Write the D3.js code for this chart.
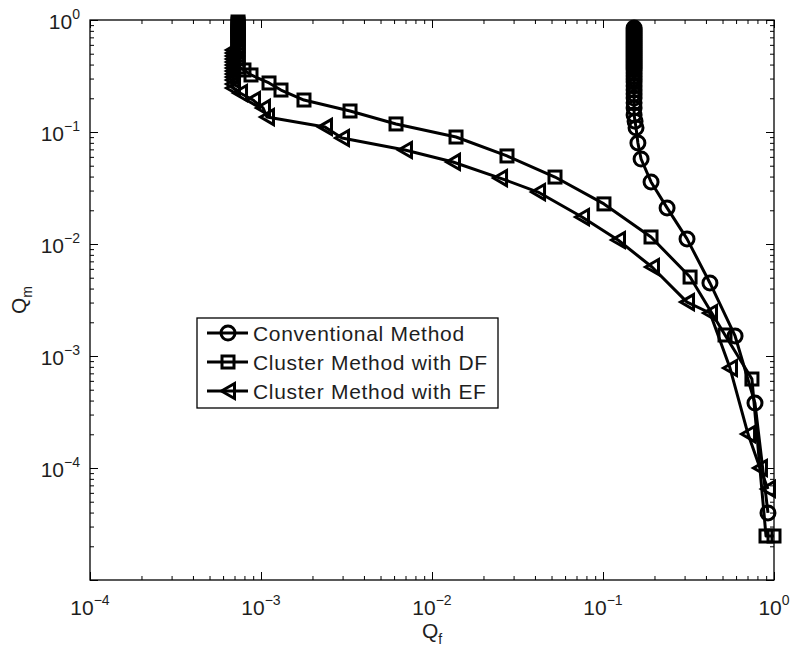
<!DOCTYPE html>
<html>
<head>
<meta charset="utf-8">
<script src="https://cdn.jsdelivr.net/npm/d3@7"></script>
<style>
  html, body { margin: 0; padding: 0; background: #fff; }
  svg { display: block; font-family: "Liberation Sans", Arial, Helvetica, sans-serif; }
</style>
</head>
<body>
<svg id="chart" width="790" height="648"></svg>
<script>
// Conventional method (circles)
const convQf = [
  0.152, 0.152, 0.152, 0.152, 0.152, 0.152, 0.152, 0.152, 0.152, 0.152, 0.152,
  0.152, 0.152, 0.152, 0.152, 0.152, 0.152, 0.152, 0.152, 0.152, 0.152, 0.152,
  0.152, 0.152, 0.152, 0.152, 0.152, 0.152, 0.152, 0.152, 0.152, 0.152, 0.152,
  0.154, 0.156, 0.160, 0.167, 0.191, 0.237, 0.310, 0.422, 0.592, 0.774, 0.922
];
const convQm = [
  0.848, 0.814, 0.781, 0.750, 0.720, 0.691, 0.663, 0.636, 0.611, 0.586, 0.562,
  0.540, 0.518, 0.497, 0.477, 0.458, 0.439, 0.422, 0.405, 0.388, 0.373, 0.358,
  0.336, 0.316, 0.297, 0.280, 0.257, 0.237, 0.218, 0.201, 0.182, 0.164, 0.142,
  0.125, 0.109, 0.0798, 0.0574, 0.0358, 0.0210, 0.0111, 0.00449, 0.00151, 0.000380, 0.0000397
];

// Cluster method with DF (squares)
const dfQf = [
  0.000734, 0.000734, 0.000734, 0.000734, 0.000734, 0.000734, 0.000734, 0.000734, 0.000734,
  0.000734, 0.000734, 0.000734, 0.000734, 0.000734, 0.000734, 0.000734, 0.000734, 0.000734,
  0.000795, 0.000874, 0.001114, 0.001309, 0.001784, 0.003316, 0.00616, 0.01382, 0.02745,
  0.0524, 0.1013, 0.1909, 0.323, 0.517, 0.743, 0.898, 1.0
];
const dfQm = [
  0.960, 0.921, 0.884, 0.848, 0.814, 0.781, 0.750, 0.720, 0.691,
  0.663, 0.623, 0.586, 0.551, 0.518, 0.487, 0.449, 0.413, 0.381,
  0.358, 0.323, 0.274, 0.237, 0.193, 0.154, 0.118, 0.0902, 0.0611,
  0.0396, 0.0228, 0.01155, 0.00507, 0.00154, 0.000623, 0.0000247, 0.0000247
];

// Cluster method with EF (left-pointing triangles)
const efQf = [
  0.000686, 0.000686, 0.000686, 0.000686, 0.000686, 0.000686, 0.000686, 0.000686, 0.000686,
  0.000686, 0.000686, 0.000686, 0.000686,
  0.000754, 0.000898, 0.001027, 0.001084, 0.002367, 0.002977, 0.00695, 0.01327, 0.0250,
  0.0417, 0.0754, 0.1224, 0.1934, 0.310, 0.4225, 0.553, 0.705, 0.828, 0.922
];
const efQm = [
  0.540, 0.507, 0.477, 0.449, 0.422, 0.397, 0.373, 0.350, 0.330,
  0.310, 0.291, 0.268, 0.247,
  0.223, 0.193, 0.164, 0.136, 0.111, 0.0884, 0.0691, 0.0540, 0.0388,
  0.0291, 0.0174, 0.01086, 0.00623, 0.00303, 0.00242, 0.000781, 0.000201, 0.0001, 0.0000650
];

const seriesNames = ["Conventional Method", "Cluster Method with DF", "Cluster Method with EF"];
const seriesMarkers = ["circle", "square", "triangleLeft"];
const xExponents = [-4, -3, -2, -1, 0];
const yExponents = [0, -1, -2, -3, -4];

const svg = d3.select("#chart");
const plot = { left: 90, right: 774, top: 20, bottom: 580 };

const x = d3.scaleLog().domain([1e-4, 1]).range([plot.left, plot.right]);
const y = d3.scaleLog().domain([1e-5, 1]).range([plot.bottom, plot.top]);

const ink = "#000";
const textInk = "#1e1e1e";

// Plot background
svg.append("rect").attr("x", plot.left).attr("y", plot.top)
  .attr("width", plot.right - plot.left).attr("height", plot.bottom - plot.top)
  .attr("fill", "#fff");

// Ticks (inward, on all four sides)
const isMajor = v => Math.abs(Math.log10(v) - Math.round(Math.log10(v))) < 1e-9;
const xAll = x.ticks();
const yAll = y.ticks();
const xMaj = xAll.filter(isMajor), xMin = xAll.filter(v => !isMajor(v));
const yMaj = yAll.filter(isMajor), yMin = yAll.filter(v => !isMajor(v));
const MAJ = 8, MIN = 4;

function drawAxis(gen, tx, ty) {
  const g = svg.append("g").attr("transform", `translate(${tx},${ty})`).call(gen);
  g.selectAll("text").remove();
  g.select(".domain").remove();
  g.selectAll("line").attr("stroke", ink).attr("stroke-width", 1);
  return g;
}
drawAxis(d3.axisBottom(x).tickValues(xMaj).tickSize(-MAJ).tickFormat(""), 0, plot.bottom);
drawAxis(d3.axisBottom(x).tickValues(xMin).tickSize(-MIN).tickFormat(""), 0, plot.bottom);
drawAxis(d3.axisTop(x).tickValues(xMaj).tickSize(-MAJ).tickFormat(""), 0, plot.top);
drawAxis(d3.axisTop(x).tickValues(xMin).tickSize(-MIN).tickFormat(""), 0, plot.top);
drawAxis(d3.axisLeft(y).tickValues(yMaj).tickSize(-MAJ).tickFormat(""), plot.left, 0);
drawAxis(d3.axisLeft(y).tickValues(yMin).tickSize(-MIN).tickFormat(""), plot.left, 0);
drawAxis(d3.axisRight(y).tickValues(yMaj).tickSize(-MAJ).tickFormat(""), plot.right, 0);
drawAxis(d3.axisRight(y).tickValues(yMin).tickSize(-MIN).tickFormat(""), plot.right, 0);

// Axes box
svg.append("rect").attr("x", plot.left).attr("y", plot.top)
  .attr("width", plot.right - plot.left).attr("height", plot.bottom - plot.top)
  .attr("fill", "none").attr("stroke", ink).attr("stroke-width", 1.3);

// Power-of-ten tick labels
const fs = 21, fsSup = 14;
function powerLabel(sel, e) {
  sel.append("tspan").text("10");
  sel.append("tspan").attr("dy", -10).attr("font-size", fsSup).text(e < 0 ? "\u2212" + (-e) : String(e));
}
xExponents.forEach(e => {
  const t = svg.append("text").attr("x", x(Math.pow(10, e))).attr("y", 615)
    .attr("text-anchor", "middle").attr("font-size", fs).attr("fill", textInk);
  powerLabel(t, e);
});
yExponents.forEach(e => {
  const t = svg.append("text").attr("x", 80).attr("y", y(Math.pow(10, e)) + 9)
    .attr("text-anchor", "end").attr("font-size", fs).attr("fill", textInk);
  powerLabel(t, e);
});

// Axis titles
const xt = svg.append("text").attr("x", 432).attr("y", 638).attr("text-anchor", "middle")
  .attr("font-size", fs).attr("fill", textInk);
xt.append("tspan").text("Q");
xt.append("tspan").attr("dy", 6).attr("font-size", fsSup).text("f");

const yt = svg.append("text").attr("transform", "translate(26,300) rotate(-90)")
  .attr("text-anchor", "middle").attr("font-size", fs).attr("fill", textInk);
yt.append("tspan").text("Q");
yt.append("tspan").attr("dy", 6).attr("font-size", fsSup).text("m");

// Marker shapes
const LW = 3;
function marker(g, kind, cx, cy) {
  if (kind === "circle") {
    g.append("circle").attr("cx", cx).attr("cy", cy).attr("r", 7);
  } else if (kind === "square") {
    g.append("rect").attr("x", cx - 6).attr("y", cy - 6).attr("width", 12).attr("height", 12);
  } else {
    g.append("path").attr("d", `M${cx - 6.5},${cy} L${cx + 6.5},${cy - 7.5} L${cx + 6.5},${cy + 7.5} Z`);
  }
}

const series = [
  { qf: convQf, qm: convQm },
  { qf: dfQf, qm: dfQm },
  { qf: efQf, qm: efQm }
];
const line = d3.line().x(d => x(d[0])).y(d => y(d[1]));

series.forEach((s, i) => {
  const pts = s.qf.map((v, j) => [v, s.qm[j]]);
  const g = svg.append("g");
  g.append("path").datum(pts).attr("d", line)
    .attr("fill", "none").attr("stroke", ink).attr("stroke-width", LW).attr("stroke-linejoin", "round");
  const mg = g.append("g").attr("fill", "none").attr("stroke", ink).attr("stroke-width", LW);
  pts.forEach(p => marker(mg, seriesMarkers[i], x(p[0]), y(p[1])));
});

// Legend
const lg = { x: 197, y: 318, w: 301, h: 90, row0: 333, rowStep: 29 };
svg.append("rect").attr("x", lg.x).attr("y", lg.y).attr("width", lg.w).attr("height", lg.h)
  .attr("fill", "#fff").attr("stroke", ink).attr("stroke-width", 1.3);
seriesNames.forEach((name, i) => {
  const ry = lg.row0 + i * lg.rowStep;
  const g = svg.append("g");
  g.append("line").attr("x1", 207).attr("x2", 248).attr("y1", ry).attr("y2", ry)
    .attr("stroke", ink).attr("stroke-width", LW);
  const mg = g.append("g").attr("fill", "none").attr("stroke", ink).attr("stroke-width", LW);
  marker(mg, seriesMarkers[i], 228, ry);
  g.append("text").attr("x", 253).attr("y", ry + 7.5).attr("font-size", fs)
    .attr("letter-spacing", 0.7).attr("fill", textInk).text(name);
});
</script>
</body>
</html>
